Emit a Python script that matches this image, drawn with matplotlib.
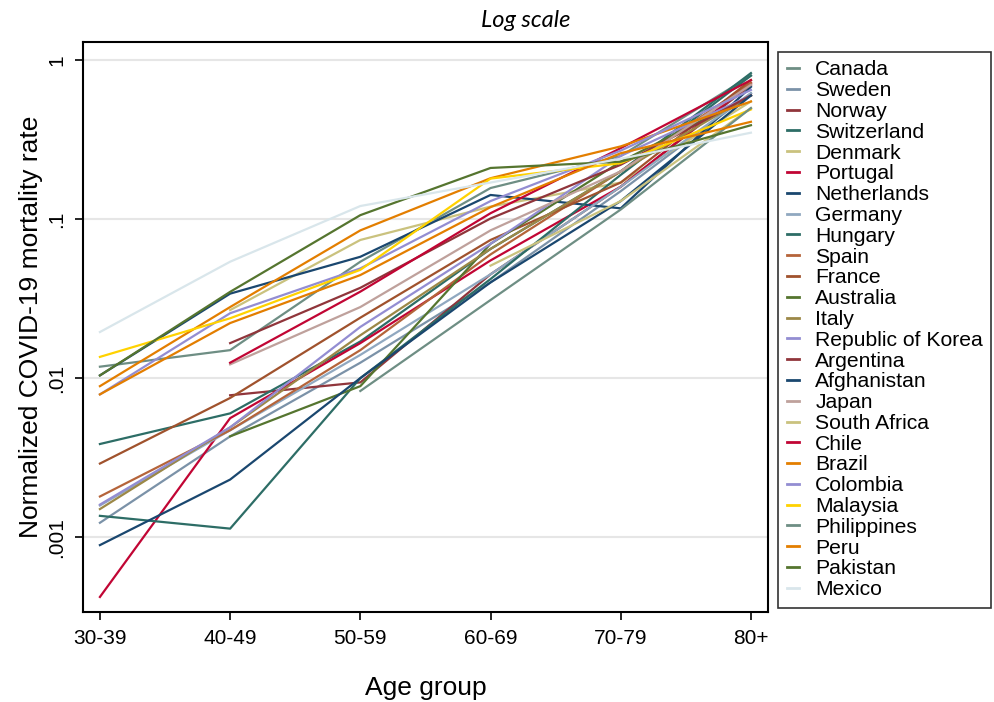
import numpy as np
import matplotlib
matplotlib.use("Agg")
import matplotlib.pyplot as plt

nan = np.nan

age_groups = ["30-39", "40-49", "50-59", "60-69", "70-79", "80+"]

countries = ["Canada", "Sweden", "Norway", "Switzerland", "Denmark", "Portugal",
             "Netherlands", "Germany", "Hungary", "Spain", "France", "Australia",
             "Italy", "Republic of Korea", "Argentina", "Afghanistan", "Japan",
             "South Africa", "Chile", "Brazil", "Colombia", "Malaysia",
             "Philippines", "Peru", "Pakistan", "Mexico"]

# estimated normalized mortality rates
canada = [0.0118, 0.0150, 0.054, 0.157, 0.25, 0.80]
sweden = [0.00123, 0.0043, 0.0125, 0.040, 0.15, 0.62]
norway = [nan, 0.0078, 0.0094, 0.045, 0.16, 0.70]
switzerland = [0.00385, 0.0060, 0.017, 0.065, 0.20, 0.83]
denmark = [nan, 0.0268, 0.074, 0.120, 0.17, 0.55]
portugal = [0.00042, 0.0056, 0.0166, 0.055, 0.16, 0.72]
netherlands = [0.0104, 0.034, 0.058, 0.142, 0.117, 0.68]
germany = [0.00158, 0.0047, 0.014, 0.045, 0.16, 0.62]
hungary = [0.00136, 0.00113, 0.0100, 0.042, 0.19, 0.80]
spain = [0.0018, 0.0047, 0.015, 0.060, 0.20, 0.72]
france = [0.0029, 0.0075, 0.024, 0.074, 0.17, 0.75]
australia = [nan, 0.0043, 0.0089, 0.070, 0.23, 0.60]
italy = [0.0015, 0.0049, 0.0186, 0.065, 0.20, 0.60]
korea = [0.0016, 0.0049, 0.021, 0.070, 0.25, 0.60]
argentina = [nan, 0.0166, 0.037, 0.101, 0.22, 0.60]
afghanistan = [0.00089, 0.0023, 0.0100, 0.040, 0.13, 0.60]
japan = [nan, 0.0122, 0.028, 0.085, 0.20, 0.70]
south_africa = [nan, nan, nan, 0.051, 0.13, 0.50]
chile = [nan, 0.0125, 0.035, 0.109, 0.28, 0.75]
brazil = [0.0089, 0.028, 0.085, 0.181, 0.287, 0.55]
colombia = [0.0079, 0.0256, 0.049, 0.130, 0.27, 0.65]
malaysia = [0.0136, 0.0238, 0.048, 0.180, 0.225, 0.49]
philippines = [nan, nan, 0.0083, 0.031, 0.115, 0.50]
peru = [0.0079, 0.0222, 0.0445, 0.119, 0.26, 0.41]
pakistan = [0.0104, 0.0349, 0.106, 0.210, 0.23, 0.39]
mexico = [0.0195, 0.054, 0.121, 0.170, 0.24, 0.35]

series = [canada, sweden, norway, switzerland, denmark, portugal, netherlands,
          germany, hungary, spain, france, australia, italy, korea, argentina,
          afghanistan, japan, south_africa, chile, brazil, colombia, malaysia,
          philippines, peru, pakistan, mexico]

# Stata s2color-like palette
colors = ["#6e8e84", "#7b92a8", "#90353b", "#2d6d66", "#cac27e", "#c10534",
          "#1a476f", "#90a8c0", "#2d6d66", "#b5643a", "#a0522d", "#55752f",
          "#9c8847", "#938dd2", "#90353b", "#1a476f", "#bfa19c", "#cac27e",
          "#c10534", "#e37e00", "#938dd2", "#ffd200", "#6e8e84", "#e37e00",
          "#55752f", "#d9e6eb"]

plt.rcParams['font.family'] = ['Liberation Sans', 'DejaVu Sans']

fig = plt.figure(figsize=(9.94, 7.02), dpi=100)
ax = fig.add_axes([0.0835, 0.128, 0.689, 0.812])

x = np.arange(len(age_groups))
for name, vals, c in zip(countries, series, colors):
    ax.plot(x, vals, color=c, lw=1.6, label=name)

ax.set_yscale("log")
ax.set_ylim(0.000337, 1.3)
ax.set_xlim(-0.13, 5.13)
ax.set_yticks([1, 0.1, 0.01, 0.001])
ax.set_yticklabels(["1", ".1", ".01", ".001"], rotation=90, va="center")
ax.minorticks_off()
ax.set_xticks(x)
ax.set_xticklabels(age_groups)
ax.tick_params(axis="both", labelsize=15, length=6, width=1.2, direction="out")
ax.tick_params(axis="x", pad=6)
ax.tick_params(axis="y", pad=6)
ax.grid(axis="y", color="#e6e6e6", lw=1.5)
ax.set_axisbelow(True)
for sp in ax.spines.values():
    sp.set_linewidth(1.5)
    sp.set_color("black")

ax.set_ylabel("Normalized COVID-19 mortality rate", fontsize=19, labelpad=3)
ax.set_xlabel("Age group", fontsize=19, labelpad=20)
fig.text(0.529, 0.971, "Log scale", fontsize=17, style="italic", family="Lato",
         ha="center", va="center")

leg = fig.legend(loc="upper left", bbox_to_anchor=(0.783, 0.926), fontsize=15.2,
                 handlelength=0.6, handletextpad=0.75, labelspacing=0.085,
                 borderpad=0.4, frameon=True, fancybox=False, borderaxespad=0)
leg.get_frame().set_edgecolor("black")
leg.get_frame().set_linewidth(1.2)
for h in leg.get_lines():
    h.set_linewidth(2)

fig.savefig("out.png", dpi=100)
